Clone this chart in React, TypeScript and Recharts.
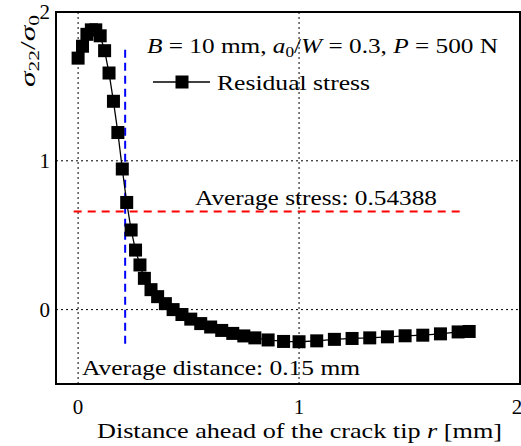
import { LineChart, Line, XAxis, YAxis, ReferenceLine, ReferenceArea } from 'recharts'

// distance ahead of the crack tip r [mm]
const rValues = [
  0, 0.02, 0.04, 0.06, 0.08, 0.1, 0.12, 0.14, 0.16, 0.18, 0.2, 0.22, 0.24, 0.26, 0.28, 0.3,
  0.33, 0.36, 0.395, 0.43, 0.47, 0.51, 0.555, 0.6, 0.65, 0.7, 0.75, 0.8, 0.86, 0.93,
  1.0, 1.08, 1.16, 1.24, 1.32, 1.4, 1.48, 1.56, 1.64, 1.72, 1.77,
]
// sigma22 / sigma0
const stressValues = [
  1.69, 1.77, 1.85, 1.88, 1.88, 1.84, 1.74, 1.59, 1.4, 1.19, 0.945, 0.72, 0.535, 0.4, 0.3, 0.21,
  0.134, 0.087, 0.04, 0.0, -0.033, -0.064, -0.094, -0.117, -0.14, -0.16, -0.177, -0.19, -0.204, -0.214,
  -0.216, -0.21, -0.2, -0.194, -0.19, -0.183, -0.176, -0.172, -0.163, -0.15, -0.147,
]
const xTicks = [0, 1, 2]
const yTicks = [0, 1, 2]
const xDomain = [-0.1, 2]
const yDomain = [-0.5, 2]

// average stress line (red) and average distance line (blue)
const avgStressLevel = 0.66
const avgStressSpan = [-0.02, 1.73]
const avgDistance = 0.213
const avgDistanceSpan = [-0.23, 1.75]

const data = rValues.map((r, i) => ({ r, s: stressValues[i] }))

const font = '"Liberation Serif", "Times New Roman", serif'

const SquareDot = (p: any) => (
  <rect key={`d${p.index}`} x={p.cx - 6.5} y={p.cy - 6.5} width={13} height={13} fill="#000" />
)

export default function App() {
  return (
    <div style={{ position: 'absolute', left: 0, top: 0, width: 521, height: 446, background: '#fff' }}>
      <LineChart width={521} height={446} data={data} margin={{ top: 12, right: 1, left: 0, bottom: 0 }}>
        <XAxis
          dataKey="r"
          type="number"
          domain={xDomain}
          ticks={xTicks}
          height={62}
          axisLine={false}
          tickLine={false}
          tick={({ x, y, payload }: any) => (
            <text x={x} y={y + 22} textAnchor="middle" fontFamily={font} fontSize={21} fill="#000">
              {payload.value}
            </text>
          )}
        />
        <YAxis
          type="number"
          domain={yDomain}
          ticks={yTicks}
          width={56}
          axisLine={false}
          tickLine={false}
          tick={({ y, payload }: any) => (
            <text x={50} y={y + 7} textAnchor="end" fontFamily={font} fontSize={21} fill="#000">
              {payload.value}
            </text>
          )}
        />
        <ReferenceLine x={0} stroke="#000" strokeDasharray="2 3" strokeWidth={1} />
        <ReferenceLine x={1} stroke="#000" strokeDasharray="2 3" strokeWidth={1} />
        <ReferenceLine y={0} stroke="#000" strokeDasharray="2 3" strokeWidth={1} />
        <ReferenceLine y={1} stroke="#000" strokeDasharray="2 3" strokeWidth={1} />
        <ReferenceLine
          segment={[{ x: avgStressSpan[0], y: avgStressLevel }, { x: avgStressSpan[1], y: avgStressLevel }]}
          stroke="#ff0000"
          strokeWidth={2}
          strokeDasharray="8 6"
        />
        <ReferenceLine
          segment={[{ x: avgDistance, y: avgDistanceSpan[0] }, { x: avgDistance, y: avgDistanceSpan[1] }]}
          stroke="#0000ff"
          strokeWidth={2}
          strokeDasharray="8 5"
        />
        <Line
          dataKey="s"
          type="linear"
          stroke="#000"
          strokeWidth={1.3}
          dot={SquareDot}
          activeDot={false}
          isAnimationActive={false}
        />
        <ReferenceArea
          x1={xDomain[0]}
          x2={xDomain[1]}
          y1={yDomain[0]}
          y2={yDomain[1]}
          fill="none"
          stroke="#000"
          strokeWidth={2}
        />
      </LineChart>
      <svg
        width={521}
        height={446}
        style={{ position: 'absolute', left: 0, top: 0, pointerEvents: 'none' }}
        fontFamily={font}
        fill="#000"
      >
        <text x={147} y={53} fontSize={22} textLength={351} lengthAdjust="spacingAndGlyphs">
          <tspan fontStyle="italic">B</tspan>
          <tspan> = 10 mm, </tspan>
          <tspan fontStyle="italic">a</tspan>
          <tspan fontSize={15} dy={4}>0</tspan>
          <tspan dy={-4}>/</tspan>
          <tspan fontStyle="italic">W</tspan>
          <tspan> = 0.3, </tspan>
          <tspan fontStyle="italic">P</tspan>
          <tspan> = 500 N</tspan>
        </text>
        <line x1={153} y1={82} x2={210} y2={82} stroke="#000" strokeWidth={1.5} />
        <rect x={175.5} y={75.5} width={13} height={13} fill="#000" />
        <text x={217} y={90} fontSize={22} textLength={153} lengthAdjust="spacingAndGlyphs">Residual stress</text>
        <text x={195} y={205} fontSize={22} textLength={242} lengthAdjust="spacingAndGlyphs">
          Average stress: 0.54388
        </text>
        <text x={82} y={375} fontSize={22} textLength={278} lengthAdjust="spacingAndGlyphs">
          Average distance: 0.15 mm
        </text>
        <text x={97} y={438} fontSize={21} textLength={405} lengthAdjust="spacingAndGlyphs">
          Distance ahead of the crack tip <tspan fontStyle="italic">r</tspan> [mm]
        </text>
        <text transform="translate(35,87) rotate(-90)" fontSize={22} textLength={72} lengthAdjust="spacingAndGlyphs">
          <tspan fontStyle="italic">σ</tspan>
          <tspan fontSize={15} dy={4}>22</tspan>
          <tspan dy={-4}>/</tspan>
          <tspan fontStyle="italic">σ</tspan>
          <tspan fontSize={15} dy={4}>0</tspan>
        </text>
      </svg>
    </div>
  )
}
